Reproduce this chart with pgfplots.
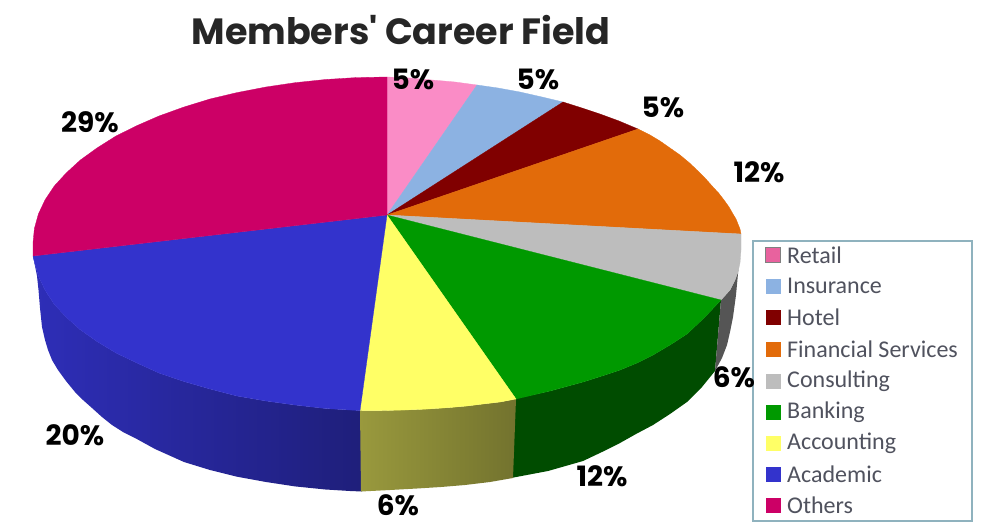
\documentclass[border=0pt]{standalone}
\usepackage{pgfplots}
\pgfplotsset{compat=1.18}
\usepackage{fontspec}
\setmainfont{Poppins}
\newfontfamily\titlefont{Poppins}
\newfontfamily\legfont{Carlito}
\definecolor{cRetail}{HTML}{FA8CC6}
\definecolor{cIns}{HTML}{8CB2E2}
\definecolor{cHotel}{HTML}{800000}
\definecolor{cFin}{HTML}{E26B0A}
\definecolor{cCons}{HTML}{BDBDBD}
\definecolor{cBank}{HTML}{009900}
\definecolor{cAcc}{HTML}{FFFF66}
\definecolor{cAcad}{HTML}{3333CC}
\definecolor{cOth}{HTML}{CC0066}
\definecolor{cLeg}{HTML}{8FB2BE}
\definecolor{cTxt}{HTML}{50525E}
\newcommand{\pct}[3]{\node[font=\fontsize{28}{28}\selectfont\bfseries,text=black,inner sep=0pt] at (axis cs:#1,#2) {#3\%};}
\newcommand{\leg}[2]{\node[font=\fontsize{24}{24}\legfont,text=cTxt,anchor=west,inner sep=0pt] at (axis cs:787,#1) {#2};}
\newcommand{\swatch}[2]{\addplot[only marks,mark=square*,mark size=7pt,mark options={solid,fill=#1,draw=#1}] coordinates {(773,#2)};}
\begin{document}
\begin{tikzpicture}
\path[use as bounding box] (0,0) rectangle (982pt,524pt);
\begin{axis}[at={(0,0)},anchor=south west,scale only axis,width=982pt,height=524pt,
  xmin=0,xmax=982,ymin=0,ymax=524,y dir=reverse,hide axis,clip=false]
% side walls
\addplot[draw=none,left color=cAcad!90!black,right color=cAcad!60!black] coordinates {(33,256)(34.4,262)(38.4,276)(45,290)(54,304)(66,317)(80,329.5)(97,341.5)(116,353)(137,363)(159,373)(184,381.5)(210,389)(237,396)(266,401)(295,405)(325.5,408.5)(350,410)(362,410.5)(362,491.5)(350,491)(325.5,489.5)(295,486.4)(266,482)(237,476.7)(210,470)(184,462)(155,449)(135,438)(123,432)(112,425)(102,417)(92,408)(83,400)(75,392)(66,381)(58,370)(52,360)(48,350)(45,340)(42,327)(40,308)(38.5,290)(37,276)} -- cycle;
\addplot[fill=black!50!cBank,draw=none] coordinates {(514,399)(550,391)(583,382)(602,376)(620,370)(637,363)(653,355)(670,345)(687,334)(704,318)(721,300)(715,371)(702,387)(687,402)(670,414)(653,425)(636,434)(620,443)(602,452)(583,461)(548,471)(511,478)} -- cycle;
\addplot[draw=none,left color=black!40!cAcc,right color=black!55!cAcc] coordinates {(360,410.5)(382,410.5)(405,410)(428,409)(450,407.5)(467,406)(483,404)(500,402)(516,399)(513,478)(490,482)(465,485)(441,487)(417,488.5)(390,490)(361,491.5)} -- cycle;
\addplot[fill=black!55!cCons,draw=none] coordinates {(721,300)(730,290)(735,280)(738,272)(739,263)(736,295)(733,317)(730,332)(727,345)(722,358)(715,371)} -- cycle;
% top face
\addplot[fill=cRetail,draw=cRetail,line width=.3pt] coordinates {(387,215)(387,77)(410,78)(432,80)(455,82)(477,85)} -- cycle;
\addplot[fill=cIns,draw=cIns,line width=.3pt] coordinates {(387,215)(477,85)(498,88)(520,92)(542,97)(563,102)} -- cycle;
\addplot[fill=cHotel,draw=cHotel,line width=.3pt] coordinates {(387,215)(563,102)(582,108)(600,114)(619,121)(638,129)} -- cycle;
\addplot[fill=cFin,draw=cFin,line width=.3pt] coordinates {(387,215)(638,129)(650,135)(660,141)(670,148)(680,155)(689,162.5)(697,170)(705,178)(713,187)(719,193.5)(724,200)(729,207)(733,214)(736,219)(738,224)(740,229)(741,234)} -- cycle;
\addplot[fill=cCons,draw=cCons,line width=.3pt] coordinates {(387,215)(741,234)(741,250)(740,263)(738,272)(735,280)(730,290)(721,300)} -- cycle;
\addplot[fill=cBank,draw=cBank,line width=.3pt] coordinates {(387,215)(721,300)(704,318)(687,334)(670,345)(653,355)(637,363)(620,370)(602,376)(583,382)(550,391)(516,399)} -- cycle;
\addplot[fill=cAcc,draw=cAcc,line width=.3pt] coordinates {(387,215)(516,399)(500,402)(483,404)(467,406)(450,407.5)(428,409)(405,410)(382,410.5)(360,410.5)} -- cycle;
\addplot[fill=cAcad,draw=cAcad,line width=.3pt] coordinates {(387,215)(360,410.5)(350,410)(325.5,408.5)(295,405)(266,401)(237,396)(210,389)(184,381.5)(159,373)(137,363)(116,353)(97,341.5)(80,329.5)(66,317)(54,304)(45,290)(38.4,276)(34.4,262)(33,256)} -- cycle;
\addplot[fill=cOth,draw=cOth,line width=.3pt] coordinates {(387,215)(33,256)(33,243)(34.4,228.5)(38.4,214)(45,200)(54.3,186)(66.2,173)(80.4,160)(97,148)(116,136)(137,125.6)(159,116)(184,107)(210,99)(237,92.6)(266,87)(295,82.7)(325.5,79.5)(356,77.6)(387,77)} -- cycle;
% legend frame
\addplot[draw=cLeg,fill=white,line width=1.8pt] coordinates {(753,241)(972,241)(972,521)(753,521)} -- cycle;
% legend swatches
\addplot[only marks,mark=square*,mark size=7.5pt,mark options={solid,fill=cRetail!70!purple,draw=gray,line width=.5pt}] coordinates {(773,255)};
\swatch{cIns}{286}\swatch{cHotel}{317}\swatch{cFin}{349}\swatch{cCons}{381}\swatch{cBank}{412}\swatch{cAcc}{443}\swatch{cAcad}{474}\swatch{cOth}{505}
\leg{255}{Retail}\leg{286}{Insurance}\leg{317}{Hotel}\leg{349}{Financial Services}\leg{381}{Consulting}\leg{412}{Banking}\leg{443}{Accounting}\leg{474}{Academic}\leg{505}{Others}
% labels
\pct{413}{79}{5}\pct{538}{79}{5}\pct{663}{107}{5}\pct{759}{172}{12}\pct{734}{377}{6}\pct{602}{476}{12}\pct{398}{505}{6}\pct{75}{435}{20}\pct{90}{122}{29}
\node[font=\fontsize{36.5}{36.5}\titlefont\bfseries,text=black!85,inner sep=0pt] at (axis cs:401,30) {Members' Career Field};
\end{axis}
\end{tikzpicture}
\end{document}
